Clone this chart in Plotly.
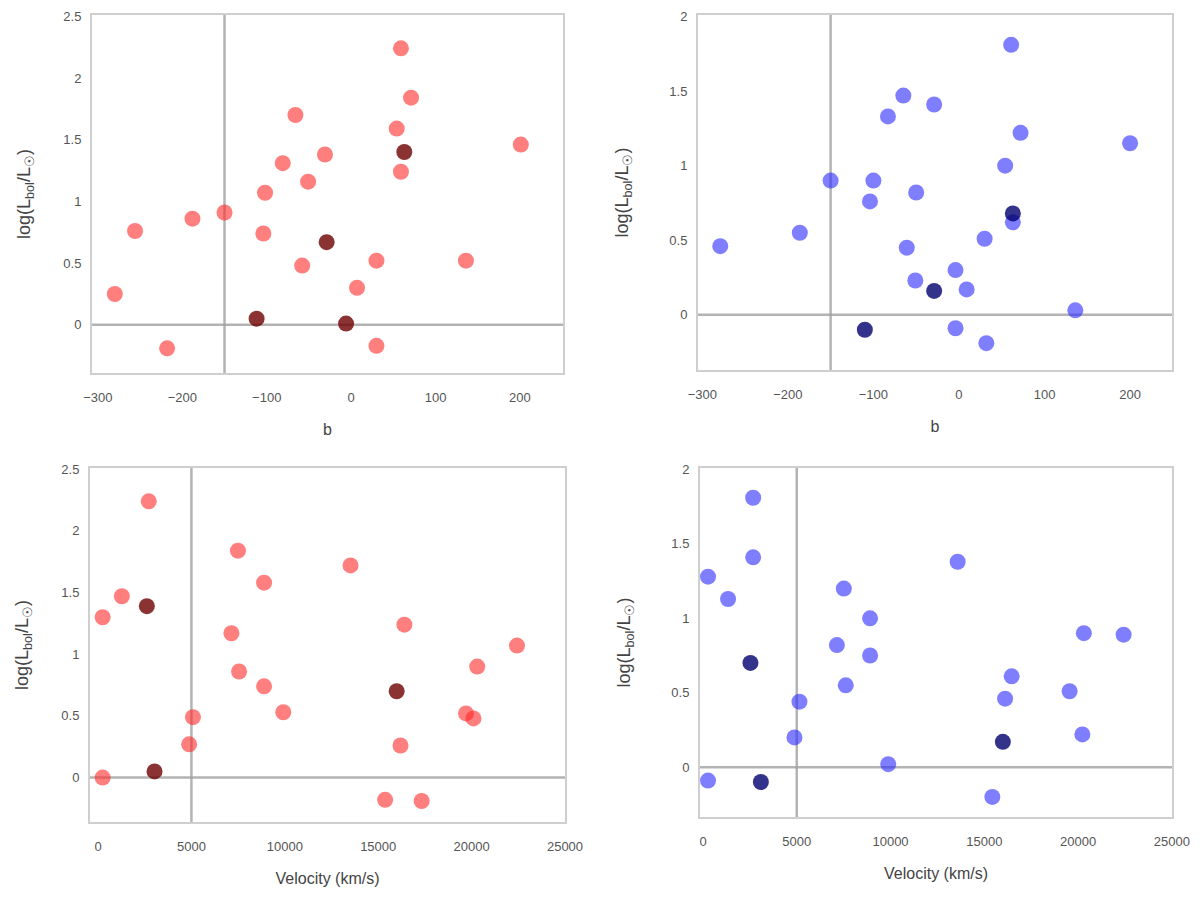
import plotly.graph_objects as go

# ---------------- data ----------------
# top-left (red)
tl_x = [59, 71, -66, 54, 201, -31, -81, 59, -51, -102, -150, -188, -256, -104, -58, 30, 136, 7, -280, 30, -218]
tl_y = [2.24, 1.84, 1.70, 1.59, 1.46, 1.38, 1.31, 1.24, 1.16, 1.07, 0.91, 0.86, 0.76, 0.74, 0.48, 0.52, 0.52, 0.30, 0.25, -0.17, -0.19]
tl_dark_x = [63, -29, -112, -6]
tl_dark_y = [1.40, 0.67, 0.05, 0.01]

# top-right (blue)
tr_x = [61, -65, -83, -29, 72, 200, 54, -150, -100, -104, -50, 63, -186, 30, -279, -61, -51, -4, 9, 136, -4, 32]
tr_y = [1.81, 1.47, 1.33, 1.41, 1.22, 1.15, 1.00, 0.90, 0.90, 0.76, 0.82, 0.62, 0.55, 0.51, 0.46, 0.45, 0.23, 0.30, 0.17, 0.03, -0.09, -0.19]
tr_dark_x = [63, -29, -110]
tr_dark_y = [0.68, 0.16, -0.10]

# bottom-left (red)
bl_x = [2716, 7490, 8889, 13519, 1276, 247, 16400, 7140, 22428, 7551, 20300, 8889, 9918, 19700, 20100, 5082, 4877, 16193, 247, 15370, 17325]
bl_y = [2.24, 1.84, 1.58, 1.72, 1.47, 1.30, 1.24, 1.17, 1.07, 0.86, 0.90, 0.74, 0.53, 0.52, 0.48, 0.49, 0.27, 0.26, 0.0, -0.18, -0.19]
bl_dark_x = [2613, 15988, 3025]
bl_dark_y = [1.39, 0.70, 0.05]

# bottom-right (blue)
br_x = [2675, 2675, 267, 1337, 13580, 7510, 8910, 7140, 8910, 20310, 22430, 7613, 16460, 16110, 19550, 5144, 4877, 20230, 9877, 267, 15430]
br_y = [1.81, 1.41, 1.28, 1.13, 1.38, 1.20, 1.00, 0.82, 0.75, 0.90, 0.89, 0.55, 0.61, 0.46, 0.51, 0.44, 0.20, 0.22, 0.02, -0.09, -0.20]
br_dark_x = [2530, 15990, 3086]
br_dark_y = [0.70, 0.17, -0.10]

top_xticks = [-300, -200, -100, 0, 100, 200]
bot_xticks = [0, 5000, 10000, 15000, 20000, 25000]
bot_xticklabels = ["0", "5000", "10000", "15000", "20000", "25000"]
left_yticks = [0, 0.5, 1, 1.5, 2, 2.5]
right_yticks = [0, 0.5, 1, 1.5, 2]

top_xtitle = "b"
bot_xtitle = "Velocity (km/s)"
ytitle = "log(L<sub>bol</sub>/L<sub>☉</sub>)"

# ---------------- figure ----------------
fig = go.Figure()

RED = "rgba(255,40,40,0.6)"
DRED = "rgba(110,0,0,0.8)"
BLUE = "rgba(40,40,255,0.6)"
DBLUE = "rgba(0,0,110,0.8)"

panels = [
    ("x", "y", tl_x, tl_y, tl_dark_x, tl_dark_y, RED, DRED),
    ("x2", "y2", tr_x, tr_y, tr_dark_x, tr_dark_y, BLUE, DBLUE),
    ("x3", "y3", bl_x, bl_y, bl_dark_x, bl_dark_y, RED, DRED),
    ("x4", "y4", br_x, br_y, br_dark_x, br_dark_y, BLUE, DBLUE),
]
for xa, ya, xs, ys, dx, dy, c, dc in panels:
    fig.add_trace(go.Scatter(x=xs, y=ys, xaxis=xa, yaxis=ya, mode="markers",
                             marker=dict(size=16, color=c, line=dict(width=0)),
                             showlegend=False, hoverinfo="x+y"))
    fig.add_trace(go.Scatter(x=dx, y=dy, xaxis=xa, yaxis=ya, mode="markers",
                             marker=dict(size=16, color=dc, line=dict(width=0)),
                             showlegend=False, hoverinfo="x+y"))

W, H = 1200, 900


def xdom(a, b):
    return [a / W, b / W]


def ydom(top, bottom):
    return [1 - bottom / H, 1 - top / H]


axis_common = dict(showline=True, linecolor="#cfcfcf", linewidth=2, mirror=True,
                   showgrid=False, zeroline=False, ticks="",
                   tickfont=dict(family="Liberation Sans, Arial", size=13, color="#555"),
                   automargin=False)
xcommon = dict(axis_common, ticklabelstandoff=11)
ycommon = dict(axis_common, ticklabelstandoff=6)

tfont = dict(family="Liberation Sans, Arial", size=16, color="#444")
yfont = dict(family="Liberation Sans, Arial", size=18, color="#444")

fig.update_layout(
    width=W, height=H,
    margin=dict(l=0, r=0, t=0, b=0),
    paper_bgcolor="white", plot_bgcolor="white",
    xaxis=dict(domain=xdom(84, 555), anchor="y", range=[-307, 251], tickvals=top_xticks,
               title=dict(text=top_xtitle, font=tfont, standoff=20), **xcommon),
    yaxis=dict(domain=ydom(7, 365), anchor="x", range=[-0.39, 2.51], tickvals=left_yticks,
               title=dict(text=ytitle, font=yfont, standoff=28), **ycommon),
    xaxis2=dict(domain=xdom(690, 1164), anchor="y2", range=[-305, 249], tickvals=top_xticks,
                title=dict(text=top_xtitle, font=tfont, standoff=20), **xcommon),
    yaxis2=dict(domain=ydom(7, 362), anchor="x2", range=[-0.37, 2.01], tickvals=right_yticks,
                title=dict(text=ytitle, font=yfont, standoff=36), **ycommon),
    xaxis3=dict(domain=xdom(82, 557), anchor="y3", range=[-430, 25000], tickvals=bot_xticks,
                ticktext=bot_xticklabels,
                title=dict(text=bot_xtitle, font=tfont, standoff=20), **xcommon),
    yaxis3=dict(domain=ydom(460, 814), anchor="x3", range=[-0.36, 2.51], tickvals=left_yticks,
                title=dict(text=ytitle, font=yfont, standoff=28), **ycommon),
    xaxis4=dict(domain=xdom(692, 1164), anchor="y4", range=[-160, 25010], tickvals=bot_xticks,
                ticktext=bot_xticklabels,
                title=dict(text=bot_xtitle, font=tfont, standoff=20), **xcommon),
    yaxis4=dict(domain=ydom(460, 809), anchor="x4", range=[-0.335, 2.01], tickvals=right_yticks,
                title=dict(text=ytitle, font=yfont, standoff=36), **ycommon),
)

LINE = dict(color="rgba(160,160,160,0.8)", width=2.5)
for xa, ya, xv in [("x", "y", -150), ("x2", "y2", -150), ("x3", "y3", 5000), ("x4", "y4", 5000)]:
    fig.add_shape(type="line", xref=xa, yref=ya + " domain", x0=xv, x1=xv, y0=0, y1=1, line=LINE, layer="below")
    fig.add_shape(type="line", xref=xa + " domain", yref=ya, x0=0, x1=1, y0=0, y1=0, line=LINE, layer="below")

fig.write_html("out.html")
